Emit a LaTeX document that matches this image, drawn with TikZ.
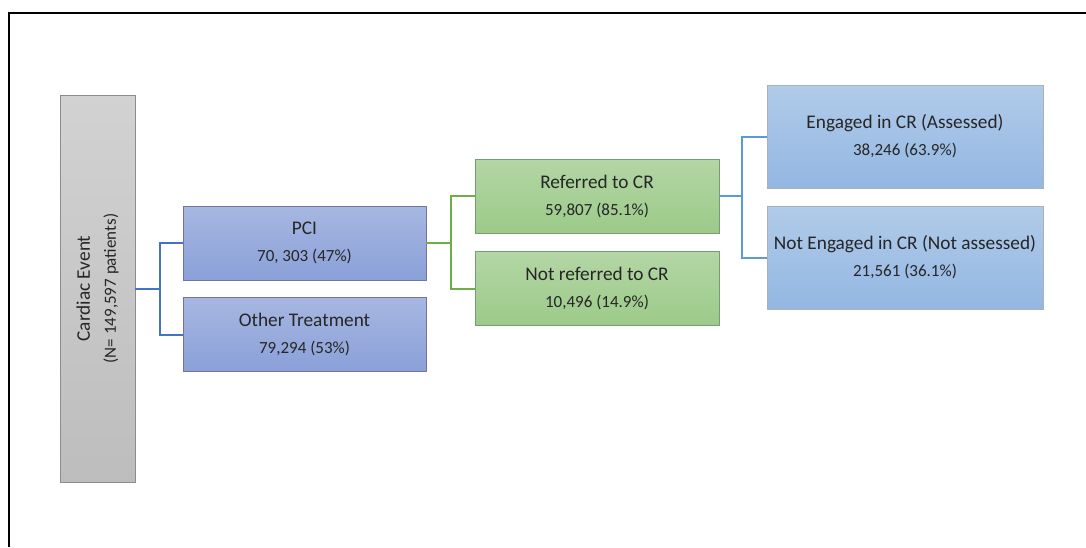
\documentclass[tikz,border=0pt]{standalone}
\usepackage{fontspec}
\setmainfont{Carlito}
\usetikzlibrary{positioning}

\definecolor{txt}{HTML}{262626}
\definecolor{linkblue}{HTML}{4472C4}
\definecolor{linkgreen}{HTML}{70AD47}
\definecolor{linksky}{HTML}{5B9BD5}
\definecolor{greytop}{HTML}{D2D2D2}
\definecolor{greybot}{HTML}{BDBDBD}
\definecolor{bluetop}{HTML}{A7B7E1}
\definecolor{bluebot}{HTML}{8AA0D8}
\definecolor{greentop}{HTML}{B3D6A5}
\definecolor{greenbot}{HTML}{9CCA89}
\definecolor{skytop}{HTML}{B1CBE9}
\definecolor{skybot}{HTML}{93B7E2}

\newcommand{\numline}[1]{{\fontsize{17}{20}\selectfont #1}}

\begin{document}
\begin{tikzpicture}[x=1pt,y=-1pt,
		box/.style={line width=0.9pt, text=txt, align=center,
			inner sep=0pt, font=\fontsize{19.3}{27}\selectfont},
		treat/.style={box, draw=blue!30!black!55, minimum width=243, minimum height=74,
			top color=bluetop, bottom color=bluebot},
		refer/.style={box, draw=green!30!black!55, minimum width=244, minimum height=74,
			top color=greentop, bottom color=greenbot},
		engage/.style={box, draw=cyan!20!black!40, minimum width=276, minimum height=103,
			top color=skytop, bottom color=skybot},
		conn/.style={line width=2pt}]
	\useasboundingbox (0,0) rectangle (1086,547);
	\draw[line width=2pt] (9,547) -- (9,12.5) -- (1086,12.5);

	\node (event) [box, rotate=90, minimum width=387, minimum height=75,
		top color=greytop, bottom color=greybot, draw=black!45]
		at (97.5,288.5) {Cardiac Event\\[-1pt]\numline{(N= 149,597 patients)}};

	\node (pci) [treat] at (304.5,243) {PCI\\\numline{70, 303 (47\%)}};
	\node (other) [treat] at (304.5,334.5) {Other Treatment\\\numline{79,294 (53\%)}};

	\node (ref) [refer] at (597,196) {Referred to CR\\\numline{59,807 (85.1\%)}};
	\node (notref) [refer] at (597,288.5) {Not referred to CR\\\numline{10,496 (14.9\%)}};

	\node (eng) [engage] at (905,136.5) {Engaged in CR (Assessed)\\\numline{38,246 (63.9\%)}};
	\node (noteng) [engage] at (905,257.5) {Not Engaged in CR (Not assessed)\\\numline{21,561 (36.1\%)}};

	\draw[conn, linkblue] (event.south) -- ++(25,0) |- (pci.west);
	\draw[conn, linkblue] (event.south) -- ++(25,0) |- (other.west);
	\draw[conn, linkgreen] (pci.east) -- ++(25,0) |- (ref.west);
	\draw[conn, linkgreen] (pci.east) -- ++(25,0) |- (notref.west);
	\draw[conn, linksky] (ref.east) -- ++(23,0) |- (eng.west);
	\draw[conn, linksky] (ref.east) -- ++(23,0) |- (noteng.west);
\end{tikzpicture}
\end{document}
